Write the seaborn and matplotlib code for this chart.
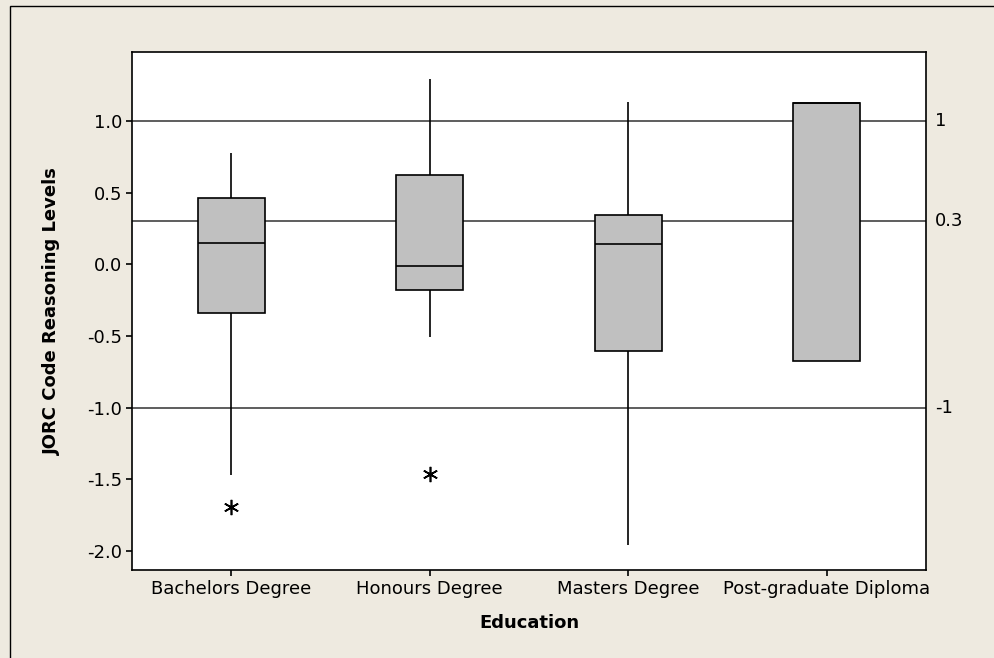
import matplotlib
matplotlib.use("Agg")
import matplotlib.pyplot as plt
import matplotlib.patches as mpatches
import pandas as pd
import seaborn as sns

# samples chosen so that the box statistics match the chart
categories = ['Bachelors Degree', 'Honours Degree', 'Masters Degree', 'Post-graduate Diploma']
bachelors = [-1.69, -1.467, -0.337, -0.10, 0.147, 0.30, 0.463, 0.60, 0.779]
honours = [-1.46, -0.505, -0.182, -0.10, -0.013, 0.30, 0.622, 0.95, 1.29]
masters = [-1.958, -0.603, 0.140, 0.344, 1.128]
pg_diploma = [-0.674, -0.674, 1.123, 1.123, 1.123]

ref_lines = [1.0, 0.3, -1.0]
ref_labels = ['1', '0.3', '-1']
yticks = [-2.0, -1.5, -1.0, -0.5, 0.0, 0.5, 1.0]

groups = [bachelors, honours, masters, pg_diploma]
df = pd.DataFrame({
    'Education': [c for c, g in zip(categories, groups) for _ in g],
    'JORC': [v for g in groups for v in g],
})

sns.set_style('white')
plt.rcParams['font.family'] = ['DejaVu Sans']

bg = '#EEEAE0'
fig = plt.figure(figsize=(9.94, 6.58), dpi=100, facecolor=bg)
ax = fig.add_axes([132 / 994, 88 / 658, 794 / 994, 518 / 658])
ax.set_facecolor('white')

# outer frame (only top and left edges visible in the crop)
fig.add_artist(mpatches.Rectangle((10 / 994, -0.2), 1.2, 1.2 - 6 / 658,
                                  transform=fig.transFigure, fill=False,
                                  edgecolor='black', lw=1.0))

for y in ref_lines:
    ax.axhline(y, color='#505050', lw=1.3, zorder=1)

sns.boxplot(data=df, x='Education', y='JORC', order=categories, ax=ax,
            width=0.34, color='#C0C0C0', saturation=1, linecolor='black',
            linewidth=1.2, showcaps=False, whis=1.5,
            flierprops=dict(marker=(6, 2, 0), markersize=11, markeredgewidth=1.2,
                            markeredgecolor='black'),
            boxprops=dict(zorder=2), whiskerprops=dict(zorder=2),
            medianprops=dict(color='black', zorder=3))

ax.set_xlim(-0.5, 3.5)
ax.set_ylim(-2.132, 1.480)
ax.set_yticks(yticks)
ax.set_yticklabels([f'{t:.1f}' for t in yticks])

for y, lab in zip(ref_lines, ref_labels):
    ax.text(1.011, y, lab, transform=ax.get_yaxis_transform(),
            ha='left', va='center', fontsize=13, color='black')

for s in ax.spines.values():
    s.set_color('black')
    s.set_linewidth(1.2)
    s.set_visible(True)

ax.tick_params(axis='both', direction='out', length=4, width=1.2,
               labelsize=13, colors='black', left=True, bottom=True, pad=3)
ax.set_xlabel('Education', fontsize=13, fontweight='bold', color='black', labelpad=12)
ax.set_ylabel('JORC Code Reasoning Levels', fontsize=13, fontweight='bold',
              color='black', labelpad=19)

fig.savefig('out.png', dpi=100, facecolor=bg)
